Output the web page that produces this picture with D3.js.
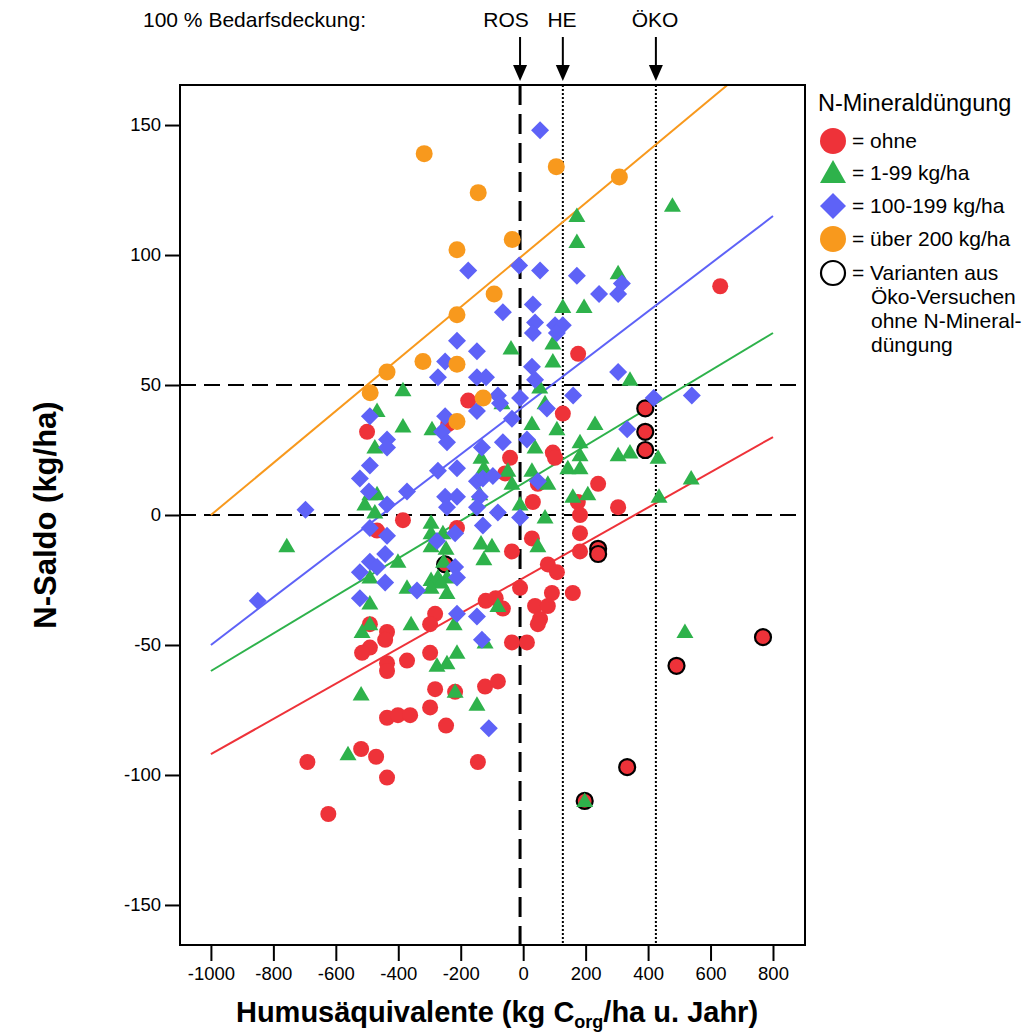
<!DOCTYPE html>
<html><head><meta charset="utf-8">
<script src="https://cdn.jsdelivr.net/npm/d3@7"></script>
<style>body{margin:0;background:#fff}svg{display:block;font-family:"Liberation Sans",Arial,sans-serif}</style>
</head><body><svg id="c" width="1026" height="1035"></svg>
<script>
// ---- data (x: Humusäquivalente, y: N-Saldo) ----
const ohne = [[631,88],[176,62],[127,39],[-500,32],[-176,44],[-240,35],[-385,-2],[-468,-6],[-212,-5],
[-42,22],[95,24],[102,22],[-58,16],[47,12],[31,5],[175,5],[240,12],[304,3],[182,0],[182,-7],[28,-9],[-36,-14],[182,-14],[79,-19],[108,-22],[-10,-28],[92,-30],[159,-30],[38,-35],[79,-35],[-65,-36],[54,-40],
[-36,-49],[12,-49],[47,-42],[-120,-33],[-88,-32],[-282,-38],[-298,-42],[-436,-45],[-442,-48],[-491,-51],[-516,-53],[-298,-53],[-372,-56],[-436,-57],[-436,-60],[-282,-67],[-218,-68],[-122,-66],[-81,-64],[-298,-74],[-436,-78],[-401,-77],[-362,-77],[-247,-81],[-519,-90],[-471,-93],[-436,-101],[-145,-95],[-491,-42],[-691,-95],[-624,-115]];
const oekoVarianten = [[391,41],[391,32],[391,25],[240,-13],[240,-15],[-250,-19],[197,-110],[333,-97],[491,-58],[768,-47]];
const n1bis99 = [[478,119],[172,115],[172,105],[304,93],[127,80],[195,80],[-39,64],[95,66],[95,59],[53,49],[70,43],[-68,43],
[28,35],[108,33],[230,35],[182,28],[182,23],[38,26],[143,18],[182,18],[304,23],[342,24],[432,22],[-49,17],[28,17],[-36,12],[79,12],[159,7],[207,8],[-10,4],[70,-1],[47,-12],[435,7],[538,14],[342,52],
[518,-45],[197,-110],
[-385,48],[-468,40],[-385,34],[-292,33],[-475,26],[-491,8],[-468,8],[-507,4],[-475,1],[-295,-3],[-295,-7],[-257,-7],[-295,-12],[-247,-13],[-401,-18],[-491,-24],[-135,-11],[-100,-12],[-126,-17],[-135,22],[-126,18],[-139,8],[-244,-24],[-295,-25],[-273,-24],[-263,-26],[-295,-28],[-244,-30],[-81,-35],[-372,-28],
[-491,-34],[-491,-42],[-516,-45],[-359,-42],[-212,-53],[-276,-58],[-244,-57],[-218,-68],[-148,-73],[-519,-69],[-561,-92],[-122,-49],[-221,-42],[-757,-12],[-255,-18]];
const n100bis199 = [[54,148],[-176,94],[-13,96],[54,94],[172,92],[243,85],[316,89],[304,85],[-65,78],[31,81],[38,74],[31,70],[102,73],[127,73],[108,70],[-212,67],[-148,63],[-250,59],[-273,53],[-148,53],[-119,53],[28,57],[38,52],[304,55],[160,46],[76,41],[-10,45],[-81,46],[-74,43],[-148,40],[-250,38],[418,45],[540,46],[333,33],[-36,37],[-65,28],[12,29],[47,13],[-10,-1],[-491,38],[-436,29],[-436,26],[-491,19],[-523,14],[-494,9],[-372,9],[-436,4],[-273,17],[-212,18],[-250,7],[-212,7],[-244,3],[-260,32],[-244,28],[-132,26],[-148,13],[-129,14],[-97,15],[-139,7],[-148,3],[-81,1],[-129,-4],[-218,-7],[-491,-5],[-436,-8],[-276,-10],[-442,-15],[-491,-18],[-523,-22],[-468,-20],[-218,-20],[-212,-24],[-442,-26],[-340,-29],[-523,-32],[-148,-39],[-212,-38],[-132,-48],[-110,-82],[-697,2],[-850,-33]];
const ueber200 = [[-317,139],[-144,124],[106,134],[308,130],[-212,102],[-35,106],[-93,85],[-212,77],[-321,59],[-212,58],[-436,55],[-490,47],[-212,36],[-128,45]];
const trendOhne = [[-1000,-92],[800,30]];
const trend1bis99 = [[-1000,-60],[800,70]];
const trend100bis199 = [[-1000,-50],[800,115]];
const trendUeber200 = [[-1000,0],[800,180]];
const xTicks = [-1000,-800,-600,-400,-200,0,200,400,600,800];
const yTicks = [-150,-100,-50,0,50,100,150];
const refLines = [{label:"ROS",x:-10,style:"dash"},{label:"HE",x:127,style:"dot"},{label:"ÖKO",x:425,style:"dot"}];
const legendItems = ["= ohne","= 1-99 kg/ha","= 100-199 kg/ha","= über 200 kg/ha","= Varianten aus"];
const legendExtra = ["Öko-Versuchen","ohne N-Mineral-","düngung"];

const RED="#EE3239", GREEN="#2EB24B", BLUE="#5E62F7", ORANGE="#F8991D";
const svg = d3.select("#c");
const L=180,R=805,T=85,B=945;
const x = d3.scaleLinear().domain([-1099,902.5]).range([L,R]);
const y = d3.scaleLinear().domain([-165.4,165.4]).range([B,T]);

svg.append("defs").append("clipPath").attr("id","clip").append("rect").attr("x",L).attr("y",T).attr("width",R-L).attr("height",B-T);
const plot = svg.append("g").attr("clip-path","url(#clip)");

// reference lines
[0,50].forEach(v=>plot.append("line").attr("x1",L).attr("x2",R).attr("y1",y(v)).attr("y2",y(v))
  .attr("stroke","#000").attr("stroke-width",2).attr("stroke-dasharray","16,8"));
refLines.forEach(r=>{
  plot.append("line").attr("x1",x(r.x)).attr("x2",x(r.x)).attr("y1",T).attr("y2",B)
   .attr("stroke","#000").attr("stroke-width",r.style==="dash"?3:2)
   .attr("stroke-dasharray",r.style==="dash"?"20,9":"2,2");
});

const line = d3.line().x(d=>x(d[0])).y(d=>y(d[1]));
[[trendOhne,RED],[trend1bis99,GREEN],[trend100bis199,BLUE],[trendUeber200,ORANGE]].forEach(([d,c])=>
  plot.append("path").datum(d).attr("d",line).attr("fill","none").attr("stroke",c).attr("stroke-width",2));

const tri = "M0,-8.5L8.5,6L-8.5,6Z";
const dia = "M0,-9L9,0L0,9L-9,0Z";

plot.append("g").selectAll("circle").data(ohne).join("circle")
  .attr("cx",d=>x(d[0])).attr("cy",d=>y(d[1])).attr("r",8).attr("fill",RED);
plot.append("g").selectAll("circle").data(oekoVarianten).join("circle")
  .attr("cx",d=>x(d[0])).attr("cy",d=>y(d[1])).attr("r",8).attr("fill",RED).attr("stroke","#000").attr("stroke-width",2.2);
plot.append("g").selectAll("path").data(n1bis99).join("path")
  .attr("d",tri).attr("transform",d=>`translate(${x(d[0])},${y(d[1])})`).attr("fill",GREEN);
plot.append("g").selectAll("path").data(n100bis199).join("path")
  .attr("d",dia).attr("transform",d=>`translate(${x(d[0])},${y(d[1])})`).attr("fill",BLUE);
plot.append("g").selectAll("circle").data(ueber200).join("circle")
  .attr("cx",d=>x(d[0])).attr("cy",d=>y(d[1])).attr("r",8.5).attr("fill",ORANGE);

// frame
svg.append("rect").attr("x",L).attr("y",T).attr("width",R-L).attr("height",B-T).attr("fill","none").attr("stroke","#000").attr("stroke-width",2);

// axes
const fmt = d=>String(d);
const xa = svg.append("g").attr("transform",`translate(0,${B})`)
  .call(d3.axisBottom(x).tickValues(xTicks).tickFormat(fmt).tickSize(16).tickSizeOuter(0).tickPadding(6));
const ya = svg.append("g").attr("transform",`translate(${L},0)`)
  .call(d3.axisLeft(y).tickValues(yTicks).tickFormat(fmt).tickSize(15).tickSizeOuter(0).tickPadding(4));
[xa,ya].forEach(a=>{a.select(".domain").remove();
  a.selectAll("line").attr("stroke","#000").attr("stroke-width",2);
  a.selectAll("text").attr("font-size",18.5).attr("fill","#000").attr("font-family","Liberation Sans, Arial, sans-serif");});

// axis titles
const xt = svg.append("text").attr("x",497).attr("y",1022).attr("text-anchor","middle")
  .attr("font-size",29).attr("font-weight","bold");
xt.append("tspan").text("Humusäquivalente (kg C");
xt.append("tspan").attr("font-size",18).attr("dy",6).text("org");
xt.append("tspan").attr("dy",-6).text("/ha u. Jahr)");
svg.append("text").attr("transform","translate(56,515) rotate(-90)").attr("text-anchor","middle")
  .attr("font-size",31).attr("font-weight","bold").text("N-Saldo (kg/ha)");

// top annotation
svg.append("text").attr("x",143).attr("y",27).attr("font-size",21).text("100 % Bedarfsdeckung:");
const labelX = {"ROS":506,"HE":562,"ÖKO":655};
refLines.forEach(r=>{
  const px = x(r.x);
  svg.append("text").attr("x",labelX[r.label]).attr("y",27).attr("text-anchor","middle").attr("font-size",21).text(r.label);
  svg.append("line").attr("x1",px).attr("x2",px).attr("y1",37).attr("y2",68).attr("stroke","#000").attr("stroke-width",2);
  svg.append("path").attr("d",`M${px-7},65L${px+7},65L${px},81Z`).attr("fill","#000");
});

// legend
const lg = svg.append("g");
lg.append("text").attr("x",818).attr("y",111).attr("font-size",23.5).text("N-Mineraldüngung");
const ly = [141,173,206,239,273];
const lx = 833;
lg.append("circle").attr("cx",lx).attr("cy",ly[0]).attr("r",13).attr("fill",RED);
lg.append("path").attr("d","M0,-13L13,10L-13,10Z").attr("transform",`translate(${lx},${ly[1]})`).attr("fill",GREEN);
lg.append("path").attr("d","M0,-13L13,0L0,13L-13,0Z").attr("transform",`translate(${lx},${ly[2]})`).attr("fill",BLUE);
lg.append("circle").attr("cx",lx).attr("cy",ly[3]).attr("r",13).attr("fill",ORANGE);
lg.append("circle").attr("cx",lx).attr("cy",ly[4]).attr("r",12).attr("fill","#fff").attr("stroke","#000").attr("stroke-width",2.2);
legendItems.forEach((t,i)=>lg.append("text").attr("x",852).attr("y",ly[i]+7).attr("font-size",21).text(t));
legendExtra.forEach((t,i)=>lg.append("text").attr("x",871).attr("y",304+i*24).attr("font-size",21).text(t));
</script></body></html>
